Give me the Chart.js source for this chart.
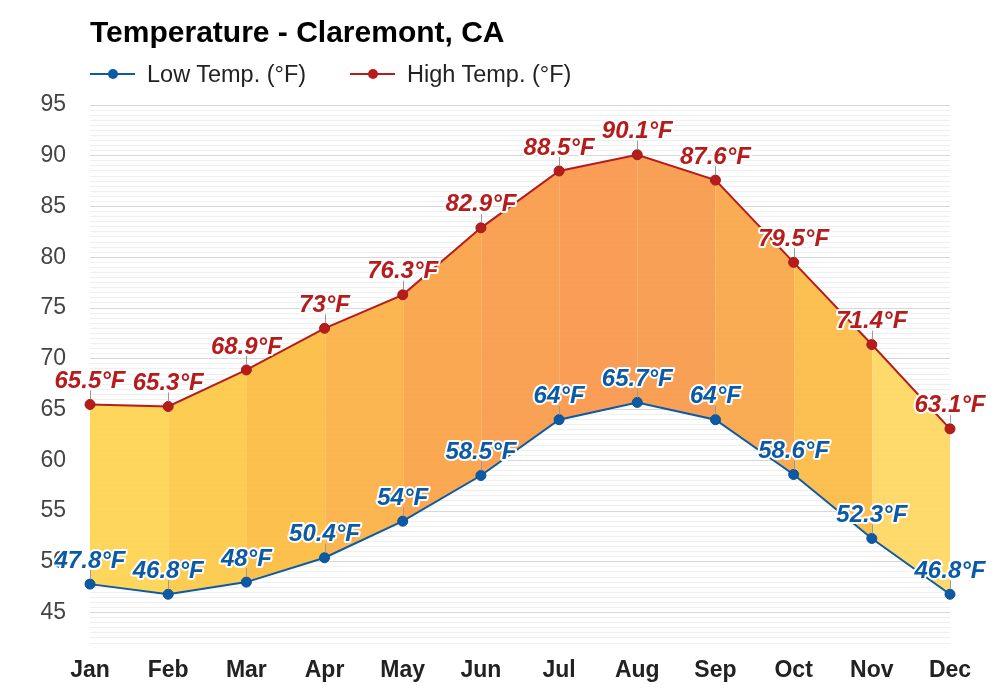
<!DOCTYPE html>
<html><head><meta charset="utf-8">
<script src="https://cdn.jsdelivr.net/npm/chart.js@4.4.0/dist/chart.umd.min.js"></script>
<style>
html,body{margin:0;padding:0;background:#fff;}
#wrap{position:relative;width:1000px;height:700px;font-family:"Liberation Sans",Arial,Helvetica,sans-serif;}
canvas{position:absolute;left:0;top:0;}
#title{position:absolute;left:90px;top:17px;font-size:30px;font-weight:bold;line-height:1;color:#000;white-space:nowrap;}
.leg{position:absolute;top:61px;height:26px;display:flex;align-items:center;font-size:23.5px;color:#222;white-space:nowrap;}
.mk{position:relative;width:45px;height:12px;margin-right:12px;}
.mk .ln{position:absolute;left:0;right:0;top:5px;height:2px;}
.mk .dt{position:absolute;left:17.5px;top:1px;width:10px;height:10px;border-radius:50%;}
</style></head>
<body>
<div id="wrap">
<canvas id="c" width="1000" height="700"></canvas>
<div id="title"></div>
</div>
<script>
const chartTitle = 'Temperature - Claremont, CA';
const months = ['Jan','Feb','Mar','Apr','May','Jun','Jul','Aug','Sep','Oct','Nov','Dec'];
const lowTemps  = [47.8, 46.8, 48, 50.4, 54, 58.5, 64, 65.7, 64, 58.6, 52.3, 46.8];
const highTemps = [65.5, 65.3, 68.9, 73, 76.3, 82.9, 88.5, 90.1, 87.6, 79.5, 71.4, 63.1];
const seriesNames = ['Low Temp. (°F)', 'High Temp. (°F)'];
const yTickLabels = [45, 50, 55, 60, 65, 70, 75, 80, 85, 90, 95];
const unit = '°F';

const seriesColors = ['#0b5aa6', '#b71c1c'];
const fillColors = ['rgba(254,211,80,0.93)','rgba(253,200,70,0.93)','rgba(252,188,64,0.93)','rgba(251,175,68,0.93)',
  'rgba(250,161,69,0.93)','rgba(249,154,72,0.93)','rgba(249,150,74,0.93)','rgba(249,153,74,0.93)',
  'rgba(250,166,71,0.93)','rgba(252,187,69,0.93)','rgba(254,214,96,0.93)'];
const FONT = '"Liberation Sans", Arial, Helvetica, sans-serif';

document.getElementById('title').textContent = chartTitle;
const legLeft = [90, 350];
seriesNames.forEach((n, i) => {
  const d = document.createElement('div');
  d.className = 'leg';
  d.style.left = legLeft[i] + 'px';
  d.innerHTML = '<div class="mk"><div class="ln" style="background:' + seriesColors[i] + '"></div><div class="dt" style="background:' + seriesColors[i] + '"></div></div>';
  const s = document.createElement('span');
  s.textContent = n;
  d.appendChild(s);
  document.getElementById('wrap').appendChild(d);
});

const bandFill = {
  id: 'bandFill',
  beforeDatasetsDraw(chart) {
    const ctx = chart.ctx;
    const lo = chart.getDatasetMeta(0).data;
    const hi = chart.getDatasetMeta(1).data;
    ctx.save();
    for (let i = 0; i < lo.length - 1; i++) {
      const xa = Math.round(lo[i].x), xb = Math.round(lo[i + 1].x);
      ctx.beginPath();
      ctx.moveTo(xa, hi[i].y);
      ctx.lineTo(xb, hi[i + 1].y);
      ctx.lineTo(xb, lo[i + 1].y);
      ctx.lineTo(xa, lo[i].y);
      ctx.closePath();
      ctx.fillStyle = fillColors[i];
      ctx.fill();
    }
    ctx.strokeStyle = 'rgba(255,255,255,0.18)';
    ctx.lineWidth = 1;
    for (let i = 1; i < lo.length - 1; i++) {
      const x = Math.round(lo[i].x) + 0.5;
      ctx.beginPath();
      ctx.moveTo(x, hi[i].y);
      ctx.lineTo(x, lo[i].y);
      ctx.stroke();
    }
    ctx.restore();
  }
};

const labelPlugin = {
  id: 'valueLabels',
  afterDatasetsDraw(chart) {
    const ctx = chart.ctx;
    chart.data.datasets.forEach((ds, di) => {
      const meta = chart.getDatasetMeta(di);
      meta.data.forEach((pt, i) => {
        const x = pt.x, y = pt.y;
        ctx.save();
        ctx.strokeStyle = '#9a9a9a';
        ctx.lineWidth = 1;
        ctx.beginPath();
        ctx.moveTo(Math.round(x) + 0.5, y - 5);
        ctx.lineTo(Math.round(x) + 0.5, y - 14);
        ctx.stroke();
        ctx.font = 'italic bold 24px ' + FONT;
        ctx.textAlign = 'center';
        ctx.textBaseline = 'middle';
        ctx.lineJoin = 'round';
        ctx.lineWidth = 4;
        ctx.strokeStyle = '#ffffff';
        const t = ds.data[i] + unit;
        ctx.strokeText(t, x, y - 23);
        ctx.fillStyle = seriesColors[di];
        ctx.fillText(t, x, y - 23);
        ctx.restore();
      });
    });
  }
};

new Chart(document.getElementById('c'), {
  type: 'line',
  data: {
    labels: months,
    datasets: [
      {
        label: seriesNames[0], data: lowTemps,
        borderColor: seriesColors[0], backgroundColor: seriesColors[0],
        borderWidth: 2, pointRadius: 5, pointBorderWidth: 1, pointBorderColor: '#0a4f92',
        pointBackgroundColor: seriesColors[0], fill: false, tension: 0, clip: false
      },
      {
        label: seriesNames[1], data: highTemps,
        borderColor: seriesColors[1], backgroundColor: seriesColors[1],
        borderWidth: 2, pointRadius: 5, pointBorderWidth: 1, pointBorderColor: '#a01818',
        pointBackgroundColor: seriesColors[1], fill: false, tension: 0, clip: false
      }
    ]
  },
  options: {
    responsive: false,
    animation: false,
    devicePixelRatio: 1,
    layout: { padding: { top: 105, right: 50, bottom: 0, left: 0 } },
    plugins: { legend: { display: false }, title: { display: false }, tooltip: { enabled: false } },
    scales: {
      x: {
        offset: false,
        grid: { display: false, drawTicks: false },
        border: { display: false },
        ticks: { font: { family: FONT, size: 23, weight: 'bold' }, color: '#222', padding: 14, maxRotation: 0 },
        afterFit(s) { s.height = 57; }
      },
      y: {
        min: 42, max: 95,
        grid: { drawTicks: false, lineWidth: 1, color: c => (c.tick && c.tick.value % 5 === 0) ? '#d8d8d8' : '#efefef' },
        border: { display: false },
        ticks: {
          autoSkip: false, font: { family: FONT, size: 23 }, color: '#444', padding: 24,
          callback: v => yTickLabels.includes(v) ? String(v) : ''
        },
        afterBuildTicks(s) {
          const t = [];
          for (let i = 84; i <= 190; i++) t.push({ value: i / 2 });
          s.ticks = t;
        },
        afterFit(s) { s.width = 90; }
      }
    }
  },
  plugins: [bandFill, labelPlugin]
});
</script>
</body></html>
